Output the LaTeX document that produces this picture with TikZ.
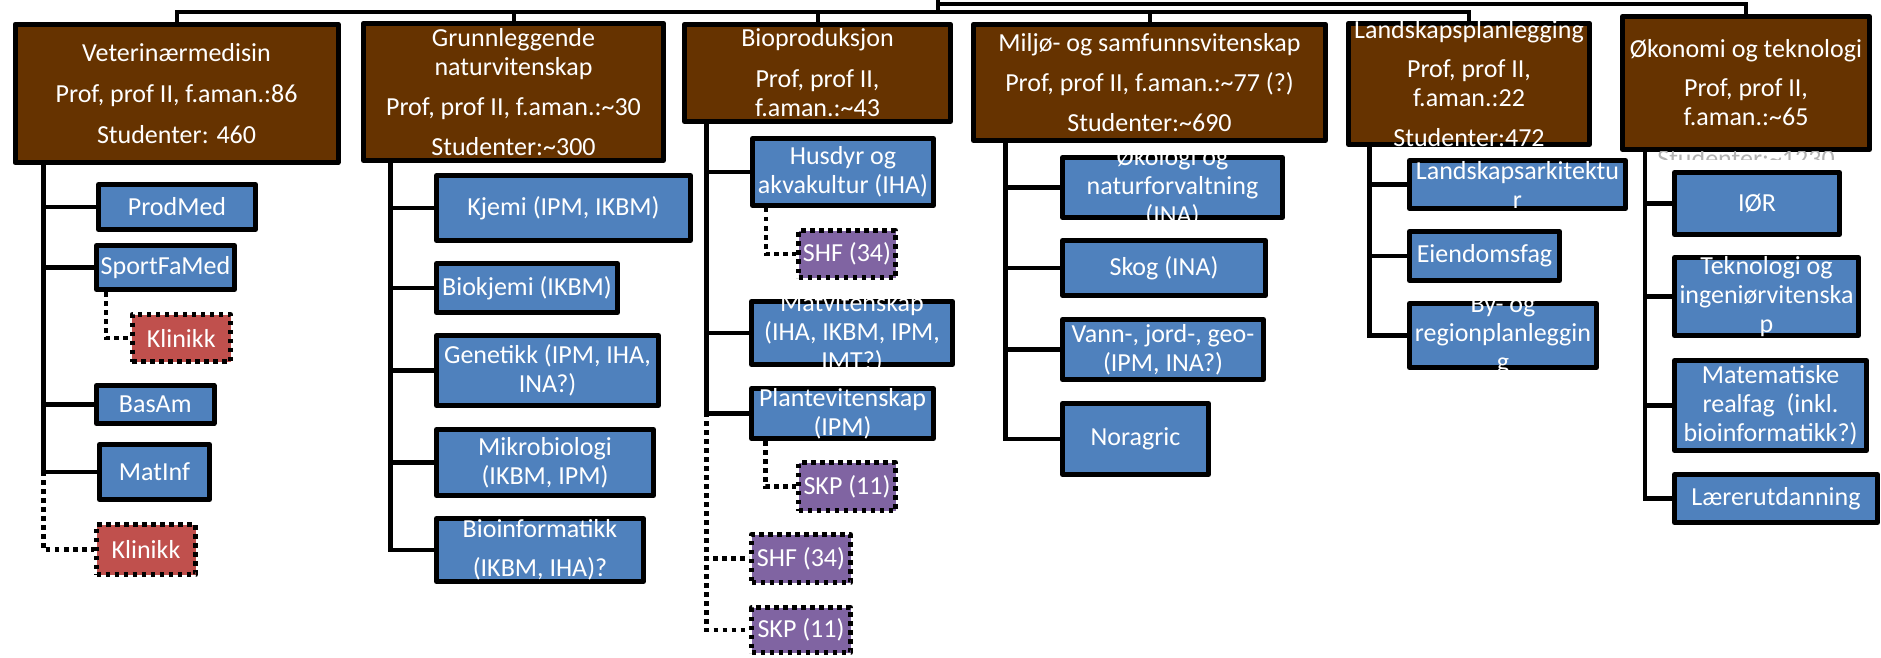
\documentclass[tikz,border=0pt]{standalone}
\usepackage{fontspec}
\setmainfont{Carlito}
\usetikzlibrary{calc}

\definecolor{facbrown}{RGB}{102,51,0}
\definecolor{unitblue}{RGB}{79,129,189}
\definecolor{clinred}{RGB}{192,80,77}
\definecolor{centpurple}{RGB}{128,100,162}

% box by its outer edges (x1,y1)-(x2,y2), in pixel units
\newcommand\mkbox[6]{%
  \node[#2, minimum width={(#5-#3-5)*0.5pt}, minimum height={(#6-#4-5)*0.5pt}]
    (#1) at ({(#3+#5)/2},{(#4+#6)/2}) {};}
% white text centred in a box, clipped to the box's outer edge
\newcommand\boxtext[3][0]{%
  \begin{scope}
    \clip ([shift={(-1.25pt,-1.25pt)}]#2.south west) rectangle ([shift={(1.25pt,1.25pt)}]#2.north east);
    \node[txt, yshift=#1] (#2-t) at (#2.center) {#3};
  \end{scope}}

\tikzset{
  base/.style={draw=black, line width=2.5pt, line join=round, inner sep=0pt, rectangle},
  faculty/.style={base, fill=facbrown},
  unit/.style={base, fill=unitblue},
  clinic/.style={base, fill=clinred, dash pattern=on 2.25pt off 2.25pt},
  centre/.style={base, fill=centpurple, dash pattern=on 2.25pt off 2.25pt},
  txt/.style={text=white, font=\fontsize{13pt}{14.5pt}\selectfont, align=center, inner sep=0pt},
  bus/.style={draw=black, line width=2pt},
  conn/.style={draw=black, line width=2.25pt},
  dotconn/.style={draw=black, line width=2.25pt, dash pattern=on 2.25pt off 2.25pt},
}

\begin{document}
\begin{tikzpicture}[x=0.5pt, y=-0.5pt]
\useasboundingbox (0,0) rectangle (1881,658);
\fill[white] (0,0) rectangle (1881,658);

% ---- faculties ----
\mkbox{vet}{faculty}{12.5}{21.7}{340.6}{165}
\mkbox{grunn}{faculty}{361}{20.7}{666}{163}
\mkbox{bio}{faculty}{682}{21.7}{953}{124}
\mkbox{miljo}{faculty}{971}{21.7}{1328}{143}
\mkbox{land}{faculty}{1346}{20.7}{1592}{147}
\mkbox{oko}{faculty}{1620}{14}{1872}{152}

% ---- links from the top ----
\coordinate (root) at (938,-4);
\coordinate (busA) at (938,12);
\coordinate (busB) at (938,4);
\draw[bus] (root) -- (busA) -| (vet.north);
\draw[bus] (root) -- (busA) -| (grunn.north);
\draw[bus] (root) -- (busA) -| (bio.north);
\draw[bus] (root) -- (busA) -| (miljo.north);
\draw[bus] (root) -- (busA) -| (land.north);
\draw[bus] (root) -- (busB) -| (oko.north);

% ---- Veterinærmedisin ----
\mkbox{prodmed}{unit}{96}{182}{258}{232}
\mkbox{sportfamed}{unit}{94}{243}{237}{292}
\mkbox{klinikkA}{clinic}{129.5}{312}{233}{364}
\mkbox{basam}{unit}{94}{383}{216.5}{426}
\mkbox{matinf}{unit}{97}{442}{212}{502}
\mkbox{klinikkB}{clinic}{94}{522}{198}{577}
\draw[dotconn] ($(vet.south west)+(31,0)$) |- (klinikkB.west);
\foreach \c in {prodmed,sportfamed,basam,matinf}
  \draw[conn] ($(vet.south west)+(31,0)$) |- (\c.west);
\draw[dotconn] ($(sportfamed.south west)+(12,0)$) |- (klinikkA.west);

% ---- Grunnleggende naturvitenskap ----
\mkbox{kjemi}{unit}{434}{173}{693}{243}
\mkbox{biokjemi}{unit}{434}{261}{620}{315}
\mkbox{genetikk}{unit}{434}{333}{661}{408}
\mkbox{mikro}{unit}{434}{427}{656}{498}
\mkbox{bioinf}{unit}{434}{516}{646}{584}
\foreach \c in {kjemi,biokjemi,genetikk,mikro,bioinf}
  \draw[conn] ($(grunn.south west)+(29.5,0)$) |- (\c.west);

% ---- Bioproduksjon ----
\mkbox{husdyr}{unit}{750}{136}{936}{208}
\mkbox{shfA}{centre}{796}{228}{898}{280}
\mkbox{matvit}{unit}{749}{299}{955}{367}
\mkbox{plante}{unit}{749}{386}{936}{441}
\mkbox{skpA}{centre}{796}{460}{898}{513}
\mkbox{shfB}{centre}{749}{532}{853}{585}
\mkbox{skpB}{centre}{749}{605}{853}{655}
\draw[dotconn] ($(bio.south west)+(24.5,0)$) |- (skpB.west);
\draw[dotconn] ($(bio.south west)+(24.5,0)$) |- (shfB.west);
\foreach \c in {husdyr,matvit,plante}
  \draw[conn] ($(bio.south west)+(24.5,0)$) |- (\c.west);
\draw[dotconn] ($(husdyr.south west)+(16,0)$) |- (shfA.west);
\draw[dotconn] ($(plante.south west)+(16.5,0)$) |- (skpA.west);

% ---- Miljø- og samfunnsvitenskap ----
\mkbox{okologi}{unit}{1060}{155}{1285}{220}
\mkbox{skog}{unit}{1060}{238}{1268}{298}
\mkbox{vann}{unit}{1060}{317}{1266}{382}
\mkbox{noragric}{unit}{1060}{401}{1211}{477}
\foreach \c in {okologi,skog,vann,noragric}
  \draw[conn] ($(miljo.south west)+(34.5,0)$) |- (\c.west);

% ---- Landskapsplanlegging ----
\mkbox{landark}{unit}{1407}{158}{1628}{211}
\mkbox{eiendom}{unit}{1407}{229}{1562}{283}
\mkbox{byog}{unit}{1407}{301}{1599}{370}
\foreach \c in {landark,eiendom,byog}
  \draw[conn] ($(land.south west)+(23.5,0)$) |- (\c.west);

% ---- Økonomi og teknologi ----
\mkbox{ior}{unit}{1672}{170}{1842}{237}
\mkbox{tekno}{unit}{1672}{255}{1861}{338}
\mkbox{matem}{unit}{1672}{358}{1869}{453}
\mkbox{laerer}{unit}{1672}{472}{1880}{525}
\foreach \c in {ior,tekno,matem,laerer}
  \draw[conn] ($(oko.south west)+(25,0)$) |- (\c.west);

% ---- texts ----
\boxtext{vet}{Veterinærmedisin\\[6pt]Prof, prof II, f.aman.:86\\[6pt]Studenter: 460}
\boxtext{grunn}{Grunnleggende\\naturvitenskap\\[5.5pt]Prof, prof II, f.aman.:\textasciitilde30\\[5.5pt]Studenter:\textasciitilde300}
\boxtext{bio}{Bioproduksjon\\[6pt]Prof, prof II,\\f.aman.:\textasciitilde43}
\boxtext{miljo}{Miljø- og samfunnsvitenskap\\[5.5pt]Prof, prof II, f.aman.:\textasciitilde77 (?)\\[5.5pt]Studenter:\textasciitilde690}
\boxtext{land}{Landskapsplanlegging\\[5pt]Prof, prof II,\\f.aman.:22\\[5.5pt]Studenter:472}
\boxtext{oko}{Økonomi og teknologi\\[5pt]Prof, prof II,\\f.aman.:\textasciitilde65}
\begin{scope}
  \clip (1600,152) rectangle (1881,160);
  \node[txt, text=black!30] (oko-s) at (1746,158.5) {Studenter:\textasciitilde1230};
\end{scope}

\boxtext{prodmed}{ProdMed}
\boxtext{sportfamed}{SportFaMed}
\boxtext{klinikkA}{Klinikk}
\boxtext{basam}{BasAm}
\boxtext{matinf}{MatInf}
\boxtext{klinikkB}{Klinikk}

\boxtext{kjemi}{Kjemi (IPM, IKBM)}
\boxtext{biokjemi}{Biokjemi (IKBM)}
\boxtext{genetikk}{Genetikk (IPM, IHA,\\INA?)}
\boxtext{mikro}{Mikrobiologi\\(IKBM, IPM)}
\boxtext{bioinf}{Bioinformatikk\\[5pt](IKBM, IHA)?}

\boxtext{husdyr}{Husdyr og\\akvakultur (IHA)}
\boxtext{shfA}{SHF (34)}
\boxtext{matvit}{Matvitenskap\\(IHA, IKBM, IPM,\\IMT?)}
\boxtext{plante}{Plantevitenskap\\(IPM)}
\boxtext{skpA}{SKP (11)}
\boxtext{shfB}{SHF (34)}
\boxtext{skpB}{SKP (11)}

\boxtext{okologi}{Økologi og\\naturforvaltning\\(INA)}
\boxtext{skog}{Skog (INA)}
\boxtext{vann}{Vann-, jord-, geo-\\(IPM, INA?)}
\boxtext{noragric}{Noragric}

\boxtext{landark}{Landskapsarkitektu\\r}
\boxtext{eiendom}{Eiendomsfag}
\boxtext{byog}{By- og\\regionplanleggin\\g}

\boxtext{ior}{IØR}
\boxtext{tekno}{Teknologi og\\ingeniørvitenska\\p}
\boxtext{matem}{Matematiske\\realfag\ \ (inkl.\\bioinformatikk?)}
\boxtext{laerer}{Lærerutdanning}
\end{tikzpicture}
\end{document}
